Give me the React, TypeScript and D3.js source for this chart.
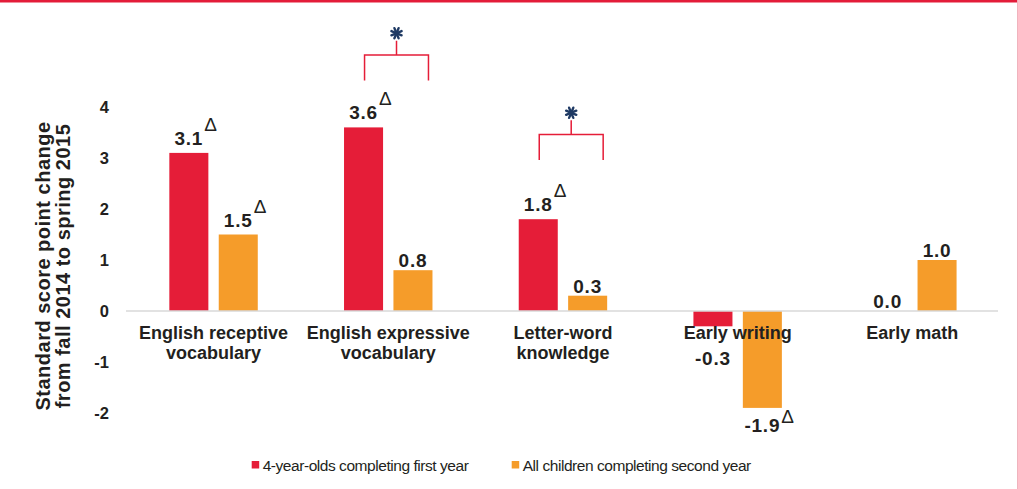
import React from "react";
import * as d3 from "d3";

const categories = [
  ["English receptive", "vocabulary"],
  ["English expressive", "vocabulary"],
  ["Letter-word", "knowledge"],
  ["Early writing"],
  ["Early math"],
];
const categoryKeys = categories.map((c) => c.join(" "));
const seriesNames = ["4-year-olds completing first year", "All children completing second year"];
const firstYear = [3.1, 3.6, 1.8, -0.3, 0.0];
const secondYear = [1.5, 0.8, 0.3, -1.9, 1.0];
const firstYearDelta = [true, true, true, false, false];
const secondYearDelta = [true, false, false, true, false];
const yTicks = [-2, -1, 0, 1, 2, 3, 4];
const brackets = [
  { category: 1, level: 5.02 },
  { category: 2, level: 3.46 },
];
const yTitle = ["Standard score point change", "from fall 2014 to spring 2015"];

const W = 1018;
const H = 489;
const RED = "#e51d38";
const ORANGE = "#f59c2a";
const TEXT = "#231f20";
const NAVY = "#1f3a64";
const FONT = "'Liberation Sans', Arial, Helvetica, sans-serif";

let measureCtx: CanvasRenderingContext2D | null = null;
function textWidth(t: string, font: string, ls = 0) {
  if (!measureCtx) measureCtx = document.createElement("canvas").getContext("2d");
  if (!measureCtx) return t.length * 10;
  measureCtx.font = font;
  return measureCtx.measureText(t).width + ls * t.length;
}

export default function App() {
  const x0 = d3.scaleBand<string>().domain(categoryKeys).range([126.2, 999.7]).padding(0);
  const x1 = d3
    .scaleBand<number>()
    .domain([0, 1])
    .range([0, x0.bandwidth()])
    .paddingInner(0.21)
    .paddingOuter(0.873);
  const y = d3.scaleLinear().domain([-2, 4]).range([413, 107]);
  const y0 = y(0);

  const series = [
    { values: firstYear, deltas: firstYearDelta, color: RED },
    { values: secondYear, deltas: secondYearDelta, color: ORANGE },
  ];

  const valFont = `bold 19px ${FONT}`;
  const valLS = 0.8;

  const bars: React.ReactNode[] = [];
  const labels: React.ReactNode[] = [];
  series.forEach((s, si) => {
    s.values.forEach((v, ci) => {
      const bx = (x0(categoryKeys[ci]) as number) + (x1(si) as number);
      const bw = x1.bandwidth();
      const top = Math.min(y(v), y0);
      const h = Math.abs(y(v) - y0);
      if (h > 0.01)
        bars.push(
          <rect key={`b${si}-${ci}`} x={bx} y={top} width={bw} height={h} fill={s.color} />
        );
      const cx = bx + bw / 2;
      const txt = v.toFixed(1);
      const hasD = s.deltas[ci];
      let base: number;
      if (v >= 0) base = y(v) - (hasD ? 8 : 3);
      else base = Math.max(y(v) + 24, y0 + 54);
      const tw = textWidth(txt, valFont, valLS);
      labels.push(
        <text
          key={`l${si}-${ci}`}
          x={cx}
          y={base}
          textAnchor="middle"
          fontFamily={FONT}
          fontWeight="bold"
          fontSize={19}
          letterSpacing={valLS}
          fill={TEXT}
        >
          {txt}
        </text>
      );
      if (hasD)
        labels.push(
          <text
            key={`d${si}-${ci}`}
            x={cx + tw / 2 + 1}
            y={base - (v >= 0 ? 14 : 9)}
            fontFamily={FONT}
            fontSize={19}
            fill={TEXT}
          >
            Δ
          </text>
        );
    });
  });

  const bracketEls = brackets.map((b, i) => {
    const key = categoryKeys[b.category];
    const gx = x0(key) as number;
    const redC = gx + (x1(0) as number) + x1.bandwidth() / 2;
    const orR = gx + (x1(1) as number) + x1.bandwidth();
    const left = redC + 1;
    const right = orR - 4;
    const mid = (left + right) / 2;
    const yh = y(b.level);
    const yl = y(b.level - 0.5);
    const ys = y(b.level + 0.28);
    const ac = ys - 7.5;
    const r = 5.5;
    const spokes = [0, 45, 90, 135].map((a) => {
      const rad = ((a + 22.5) * Math.PI) / 180;
      return (
        <line
          key={a}
          x1={mid - r * Math.cos(rad)}
          y1={ac - r * Math.sin(rad)}
          x2={mid + r * Math.cos(rad)}
          y2={ac + r * Math.sin(rad)}
          stroke={NAVY}
          strokeWidth={2.4}
          strokeLinecap="round"
        />
      );
    });
    return (
      <g key={`br${i}`}>
        <path
          d={`M${left},${yl}V${yh}H${right}V${yl}M${mid},${yh}V${ys}`}
          fill="none"
          stroke={RED}
          strokeWidth={1.5}
        />
        {spokes}
      </g>
    );
  });

  const titleCY = 266;

  return (
    <svg
      width={W}
      height={H}
      style={{ position: "absolute", left: 0, top: 0, background: "#fff" }}
    >
      <rect x={0} y={0} width={W} height={H} fill="#fff" />
      <rect x={0} y={0} width={W} height={2.5} fill="#e31c39" />
      <line x1={1017.5} y1={0} x2={1017.5} y2={H} stroke="#f0b3bd" strokeWidth={1} />

      {bars}
      <line x1={126} x2={998} y1={y0} y2={y0} stroke="#d9d9d9" strokeWidth={1.5} />

      {yTicks.map((t) => (
        <text
          key={`t${t}`}
          x={109}
          y={y(t)}
          dy="0.35em"
          textAnchor="end"
          fontFamily={FONT}
          fontWeight="bold"
          fontSize={16.5}
          fill={TEXT}
        >
          {t}
        </text>
      ))}

      {yTitle.map((line, i) => (
        <text
          key={`yt${i}`}
          transform={`translate(${50 + i * 20},${titleCY}) rotate(-90)`}
          textAnchor="middle"
          fontFamily={FONT}
          fontWeight="bold"
          fontSize={20}
          letterSpacing={0.5}
          fill={TEXT}
        >
          {line}
        </text>
      ))}

      {categories.map((lines, ci) => {
        const cx = (x0(categoryKeys[ci]) as number) + x0.bandwidth() / 2;
        return (
          <text
            key={`c${ci}`}
            textAnchor="middle"
            fontFamily={FONT}
            fontWeight="bold"
            fontSize={18}
            fill={TEXT}
          >
            {lines.map((l, li) => (
              <tspan key={li} x={cx} y={339 + li * 20}>
                {l}
              </tspan>
            ))}
          </text>
        );
      })}

      {labels}
      {bracketEls}

      {seriesNames.map((n, i) => {
        const lx = [251.7, 511.7][i];
        return (
          <g key={`lg${i}`}>
            <rect x={lx} y={461} width={7.5} height={7.5} fill={i === 0 ? RED : ORANGE} />
            <text
              x={lx + 11}
              y={470.5}
              fontFamily={FONT}
              fontSize={15.5}
              letterSpacing={-0.45}
              fill={TEXT}
            >
              {n}
            </text>
          </g>
        );
      })}
    </svg>
  );
}
